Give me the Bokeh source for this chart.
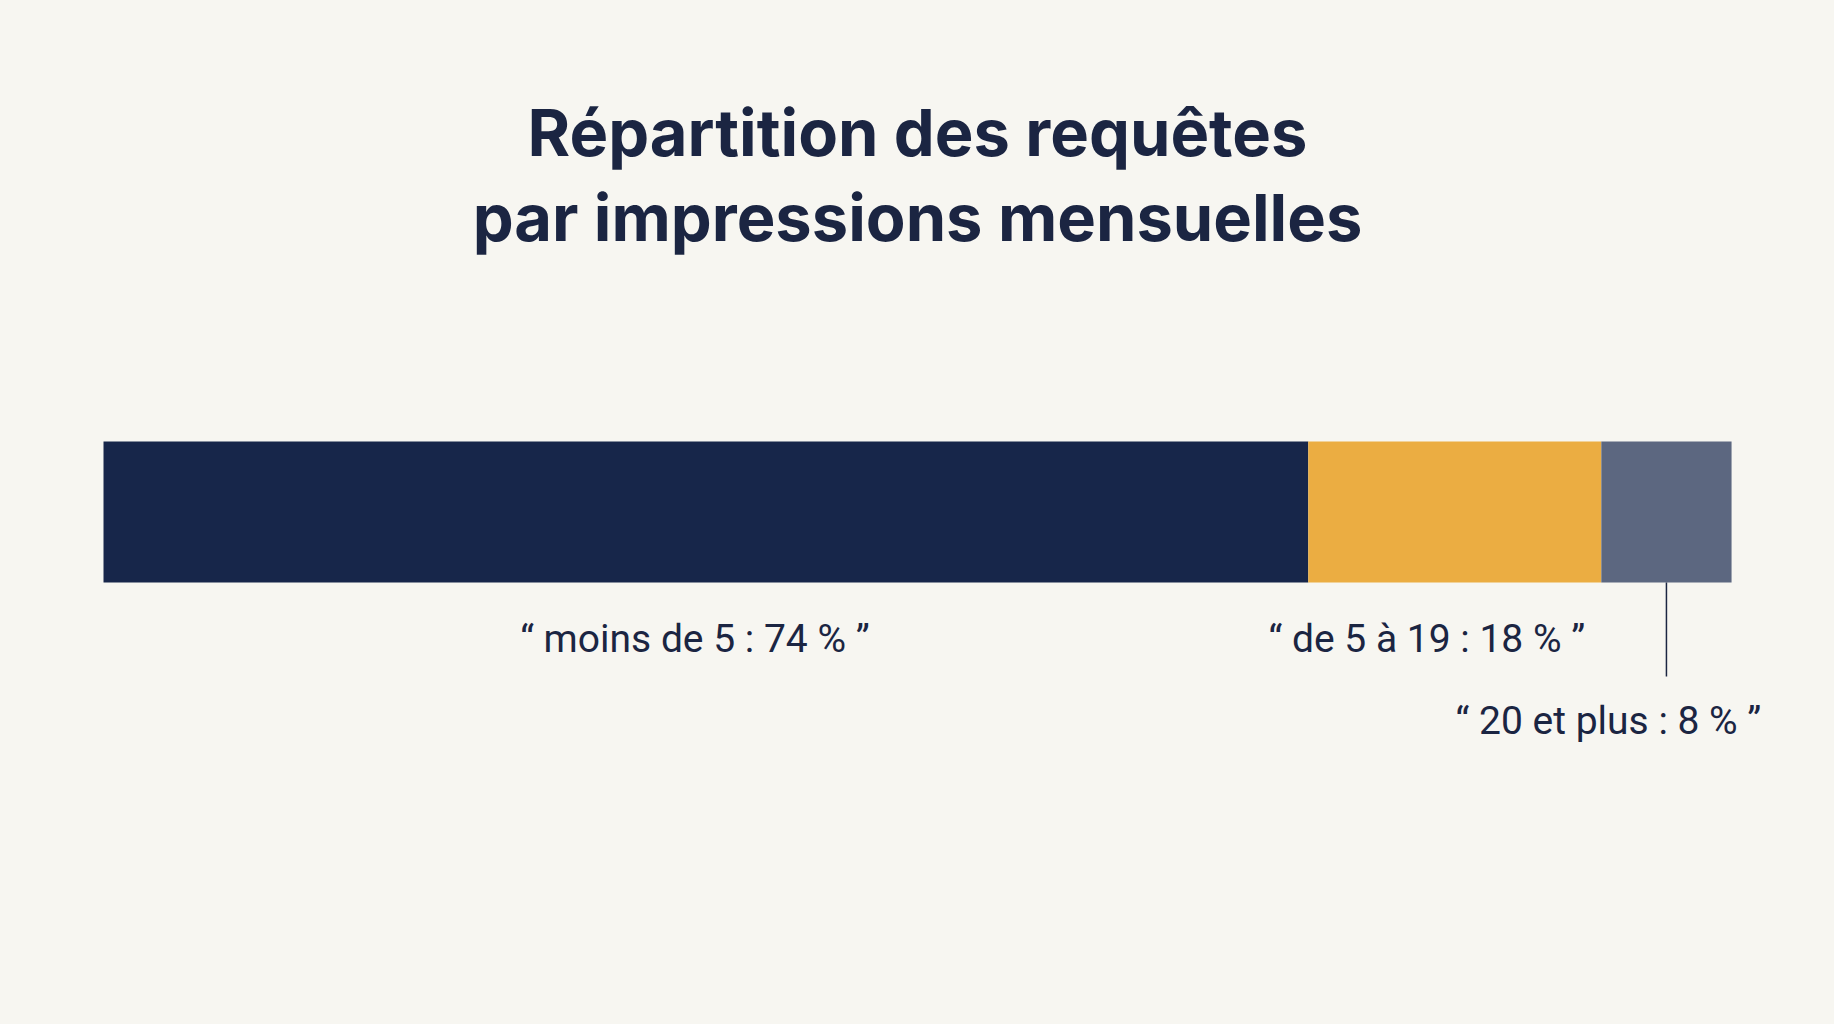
from bokeh.plotting import figure
from bokeh.models import ColumnDataSource, Range1d
from bokeh.core.properties import value
from bokeh.embed import file_html
from bokeh.resources import INLINE

# data
categories = ["moins de 5", "de 5 à 19", "20 et plus"]
shares = [74, 18, 8]
labels = ["“ moins de 5 : 74 % ”", "“ de 5 à 19 : 18 % ”", "“ 20 et plus : 8 % ”"]
title_lines = ["Répartition des requêtes", "par impressions mensuelles"]

colors = ["#17264a", "#ebad42", "#5c6780"]
BG = "#f7f6f1"
INK = "#1b2542"

# cumulative edges of the stacked bar
lefts, rights = [], []
acc = 0
for s in shares:
    lefts.append(acc)
    acc += s
    rights.append(acc)
mids = [(l + r) / 2 for l, r in zip(lefts, rights)]

src = ColumnDataSource(dict(
    cat=categories, left=lefts, right=rights, mid=mids, color=colors,
    label=labels,
    lab_y=[638, 638, 720],
    lab_dx=[-11, -28, -58],
))

W, H = 1818, 1008
x0, x1 = -6.327, 105.34
p = figure(width=W, height=H, x_range=Range1d(x0, x1), y_range=Range1d(H, 0),
           output_backend="svg", toolbar_location=None, min_border=0,
           background_fill_color=BG, border_fill_color=BG, outline_line_color=None)
p.axis.visible = False
p.grid.visible = False

# stacked bar
p.hbar(y=511.5, height=141, left="left", right="right", fill_color="color",
       line_color=None, source=src)

# leader line for the small segment
p.segment(x0=mids[2], y0=582, x1=mids[2], y1=676, line_color=INK, line_width=1.5)

# segment labels
p.text(x="mid", y="lab_y", text="label", x_offset="lab_dx", source=src,
       text_align="center", text_baseline="alphabetic",
       text_font=value("Roboto"), text_font_size="39px", text_color=INK)

# title
p.text(x=[(x0 + x1) / 2] * 2, y=[132, 217], text=title_lines, x_offset=8,
       text_align="center", text_baseline="alphabetic",
       text_font=value("Inter"), text_font_style="bold",
       text_font_size="65px", text_color=INK)

html = file_html(p, INLINE)
html = html.replace("</head>", "<style>html, body { background: %s; }</style></head>" % BG, 1)
open("out.html", "w").write(html)
